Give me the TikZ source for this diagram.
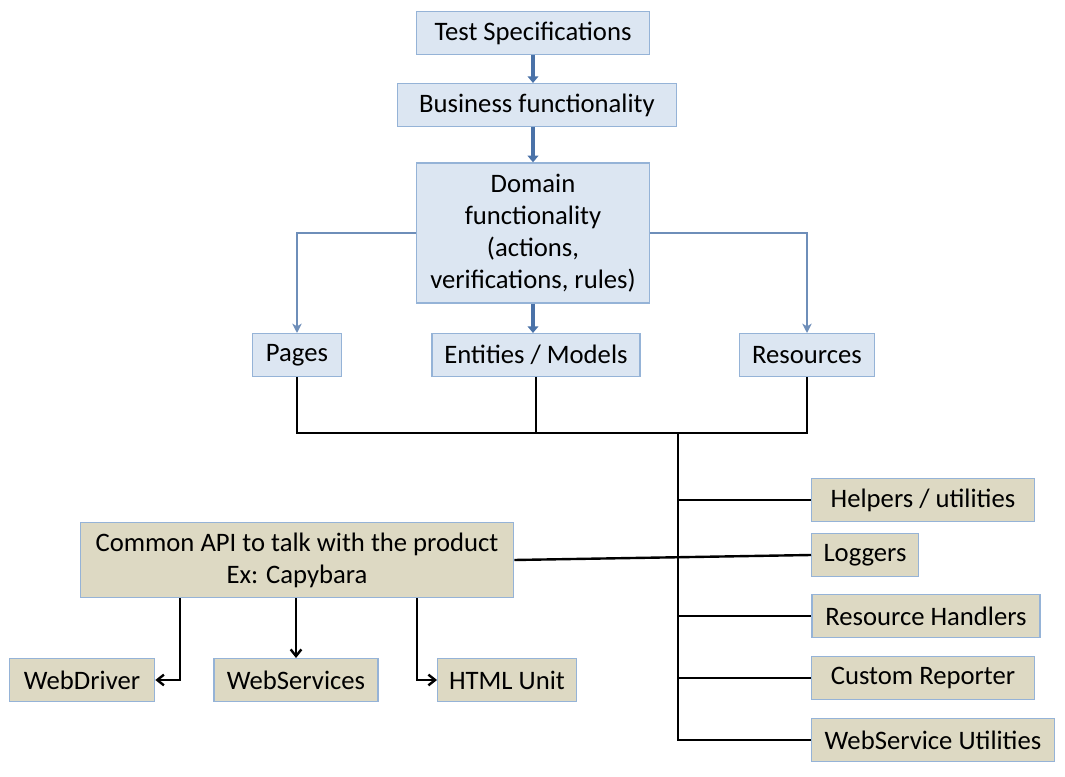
\documentclass[tikz,border=0pt]{standalone}
\usepackage{fontspec}
\setmainfont{Carlito}
\usetikzlibrary{arrows.meta}
\definecolor{BoxBlue}{HTML}{DCE6F2}
\definecolor{EdgeBlue}{HTML}{95B3D7}
\definecolor{BoxTan}{HTML}{DDD9C3}
\definecolor{ArrowBlue}{HTML}{4A72A8}
\tikzset{
  bluebox/.style={draw=EdgeBlue, fill=BoxBlue, line width=1pt, minimum height=32pt, inner sep=2pt, font=\fontsize{20}{24}\selectfont},
  tanbox/.style={draw=EdgeBlue, fill=BoxTan, line width=1pt, minimum height=32pt, inner sep=2pt, font=\fontsize{20}{24}\selectfont},
  mainarrow/.style={draw=ArrowBlue, line width=3pt, -{Triangle[length=5pt, width=8pt]}},
  sidearrow/.style={draw=ArrowBlue!80, line width=2pt, -{Stealth[length=7pt, width=7pt, inset=2pt]}},
  wire/.style={draw=black, line width=1.8pt},
  wirearrow/.style={wire, -{Straight Barb[length=5pt, width=8pt]}}
}

\begin{document}
\begin{tikzpicture}[x=0.75pt, y=-0.75pt]
    \useasboundingbox (0,0) rectangle (1065,777);
    % upper chain
    \node[bluebox, minimum width=175pt] (spec) at (533,33) {Test Specifications};
    \node[bluebox, minimum width=209pt] (business) at (537,105) {Business functionality};
    \node[bluebox, minimum width=175pt, minimum height=105pt, align=center] (domain) at (533,233) {Domain\\functionality\\(actions,\\verifications, rules)};
    \node[bluebox, minimum width=67pt] (pages) at (297,355) {Pages};
    \node[bluebox, minimum width=156pt] (entities) at (536,355) {Entities / Models};
    \node[bluebox, minimum width=101pt] (resources) at (807,355) {Resources};
    % product api
    \node[tanbox, minimum width=325pt, minimum height=56pt, align=center] (api) at (297,560) {Common API to talk with the product\\Ex: Capybara};
    \node[tanbox, minimum width=109pt] (webdriver) at (82,680) {WebDriver};
    \node[tanbox, minimum width=123pt] (webservices) at (296,680) {WebServices};
    \node[tanbox, minimum width=104pt] (htmlunit) at (507,680) {HTML Unit};
    % support pieces
    \node[tanbox, minimum width=167pt] (helpers) at (923,500) {Helpers / utilities};
    \node[tanbox, minimum width=80pt] (loggers) at (865,555) {Loggers};
    \node[tanbox, minimum width=171pt] (handlers) at (926,616) {Resource Handlers};
    \node[tanbox, minimum width=167pt] (reporter) at (923,678) {Custom Reporter};
    \node[tanbox, minimum width=182pt] (wsutil) at (933,740) {WebService Utilities};

    \draw[mainarrow] (spec.south) -- (spec.south |- business.north);
    \draw[mainarrow] (domain.north |- business.south) -- (domain.north);
    \draw[mainarrow] (domain.south) -- (domain.south |- entities.north);
    \draw[sidearrow] (domain.west) -| (pages.north);
    \draw[sidearrow] (domain.east) -| (resources.north);

    \coordinate (bus) at (678,433);
    \coordinate (trunkend) at (678,740);
    \draw[wire] (pages.south) |- (resources.south |- bus) -- (resources.south);
    \draw[wire] (entities.south) -- (entities.south |- bus);
    \draw[wire] (bus) -- (trunkend) -- (wsutil.west);
    \foreach \n in {helpers, handlers, reporter} {
        \draw[wire] (bus |- \n.west) -- (\n.west);
    }
    \draw[wire] (api.east) -- (loggers.west);

    \path (api.south) ++(-117,0) coordinate (tapA) ++(237,0) coordinate (tapC);
    \draw[wirearrow] (tapA) |- (webdriver.east);
    \draw[wirearrow] (api.south -| webservices.north) -- (webservices.north);
    \draw[wirearrow] (tapC) |- (htmlunit.west);
\end{tikzpicture}
\end{document}
